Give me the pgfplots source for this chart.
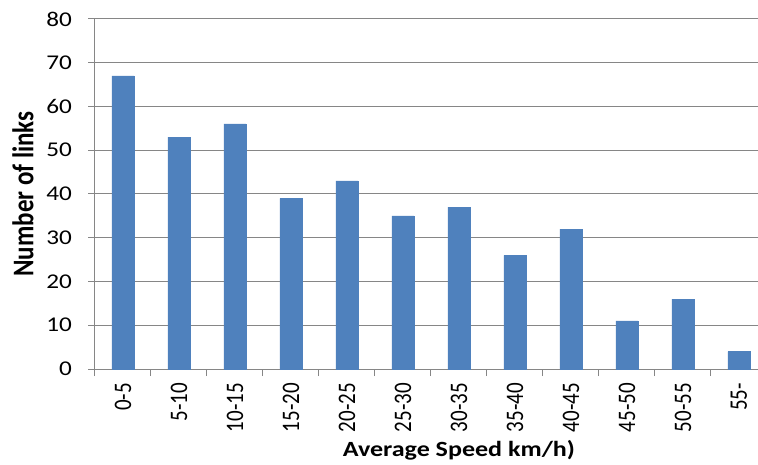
\documentclass[border=0pt]{standalone}
\usepackage{graphicx}
\usepackage{pgfplots}
\pgfplotsset{compat=1.18}
\usepackage{fontspec}
\setmainfont{Carlito}
\definecolor{barblue}{HTML}{4F81BD}
\definecolor{gridgray}{HTML}{868686}
\newcommand\sx[1]{\scalebox{1.2}[1]{#1}}
\newcommand\sy[1]{\scalebox{1}[1.2]{#1}}
\begin{document}
\begin{tikzpicture}[x=1pt,y=1pt]
\useasboundingbox (0,0) rectangle (758,464);
\begin{axis}[
  at={(95pt,95pt)}, anchor=south west,
  scale only axis, width=663pt, height=350pt,
  xmin=-0.5, xmax=11.34, ymin=0, ymax=80,
  axis lines=left, axis line style={-, draw=gridgray, line width=1pt},
  ymajorgrids, grid style={draw=gridgray, line width=1pt},
  ytick={0,10,...,80},
  yticklabel={\sx{\pgfmathprintnumber{\tick}}},
  xtick={0,...,11},
  xticklabels={\sy{0-5},\sy{5-10},\sy{10-15},\sy{15-20},\sy{20-25},\sy{25-30},\sy{30-35},\sy{35-40},\sy{40-45},\sy{45-50},\sy{50-55},\sy{55-}},
  minor xtick={-0.5,0.5,...,10.5},
  tick align=outside,
  major tick length=7pt, minor tick length=7pt,
  major x tick style={draw=none},
  minor x tick style={draw=gridgray, line width=1pt},
  major y tick style={draw=gridgray, line width=1pt},
  /pgf/number format/assume math mode=true,
  tick label style={font=\fontsize{21}{25}\selectfont, text=black},
  yticklabel style={anchor=east, inner sep=0pt, xshift=-16pt},
  xticklabel style={yshift=-7pt, rotate=90, anchor=east, inner sep=0pt},
  xlabel={\sx{Average Speed km/h)}},
  ylabel={\sy{Number of links}},
  every axis x label/.style={at={(axis description cs:0.549,-0.2514)}, anchor=base, font=\bfseries\fontsize{21.7}{26}\selectfont},
  every axis y label/.style={at={(axis description cs:-0.1086,0.5)}, anchor=center, font=\bfseries\fontsize{25}{30}\selectfont, rotate=90},
  clip=false,
]
\addplot[ybar, bar width=0.393, fill=barblue, draw=barblue] coordinates {
  (0,67) (1,53) (2,56) (3,39) (4,43) (5,35) (6,37) (7,26) (8,32) (9,11) (10,16) (11,4)
};
\end{axis}
\end{tikzpicture}
\end{document}
